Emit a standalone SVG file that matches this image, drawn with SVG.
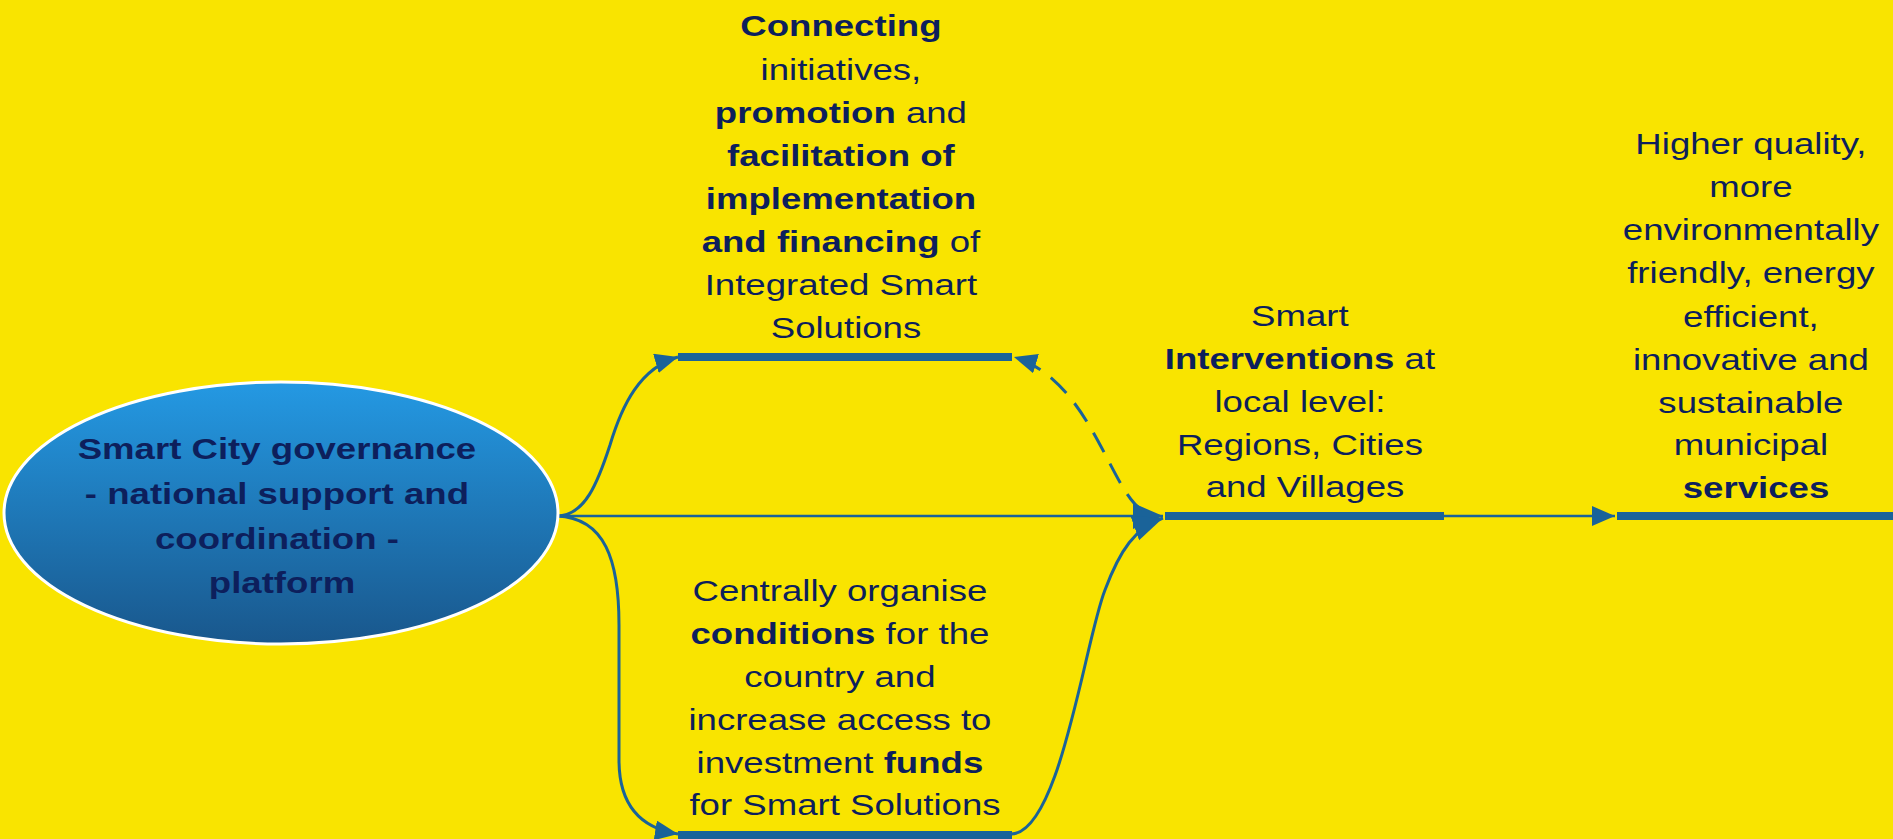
<svg xmlns="http://www.w3.org/2000/svg" width="1893" height="839" viewBox="0 0 1893 839">
<style>
  text { font-family: "Liberation Sans", Arial, sans-serif; font-size: 30px; fill: #0D1F5C; text-anchor: middle; }
  .b { font-weight: bold; }
  .conn { fill: none; stroke: #1A6399; stroke-width: 3; }
  .thin { fill: none; stroke: #1A6399; stroke-width: 2.5; }
  .dash { fill: none; stroke: #1A6399; stroke-width: 3; stroke-dasharray: 22 13; }
  .bar { stroke: #1A6399; stroke-width: 8; }
</style>
<defs>
  <linearGradient id="ellGrad" x1="0" y1="0" x2="0" y2="1">
    <stop offset="0" stop-color="#2499E3"/>
    <stop offset="1" stop-color="#19578C"/>
  </linearGradient>
  <marker id="arr" markerUnits="userSpaceOnUse" markerWidth="26" markerHeight="22" refX="23" refY="10" orient="auto">
    <path d="M0,0 L23,10 L0,20 z" fill="#1A6399"/>
  </marker>
  <marker id="arrBig" markerUnits="userSpaceOnUse" markerWidth="32" markerHeight="30" refX="30" refY="13" orient="auto">
    <path d="M0,0 L30,13 L0,26 z" fill="#1A6399"/>
  </marker>
</defs>
<rect x="0" y="0" width="1893" height="839" fill="#F9E400"/>

<g id="connectors">
  <path class="conn" d="M557,516 C585,516 598,482 610,445 C622,405 640,368 678,357" marker-end="url(#arr)"/>
  <path class="thin" d="M557,516 L1163,516" marker-end="url(#arrBig)"/>
  <path class="conn" d="M557,516 C605,518 619,560 619,625 L619,760 C619,805 640,828 678,834" marker-end="url(#arr)"/>
  <path class="conn" d="M1011,834 C1060,834 1085,640 1105,590 C1120,550 1135,528 1163,518" marker-end="url(#arrBig)"/>
  <path class="dash" d="M1142,510 C1110,490 1090,380 1014,357" marker-end="url(#arr)"/>
  <path class="thin" d="M1444,516 L1615,516" marker-end="url(#arr)"/>
</g>

<g id="platform">
  <ellipse cx="281" cy="513" rx="277" ry="131" fill="url(#ellGrad)" stroke="#FFFFFF" stroke-width="3"/>
  <text class="b" transform="translate(282,0) scale(1.22,1)">
    <tspan x="0" y="459">Smart City governance</tspan>
    <tspan x="0" y="504">- national support and</tspan>
    <tspan x="0" y="549">coordination -</tspan>
    <tspan x="0" y="593">platform</tspan>
  </text>
</g>

<g id="connecting">
  <text transform="translate(846,0) scale(1.22,1)">
    <tspan x="0" y="36" class="b">Connecting</tspan>
    <tspan x="0" y="80">initiatives,</tspan>
    <tspan x="0" y="123"><tspan class="b">promotion</tspan> and</tspan>
    <tspan x="0" y="166" class="b">facilitation of</tspan>
    <tspan x="0" y="209" class="b">implementation</tspan>
    <tspan x="0" y="252"><tspan class="b">and financing</tspan> of</tspan>
    <tspan x="0" y="295">Integrated Smart</tspan>
    <tspan x="0" y="338">Solutions</tspan>
  </text>
  <line class="bar" x1="678" y1="357" x2="1012" y2="357"/>
</g>

<g id="centrally">
  <text transform="translate(845,0) scale(1.22,1)">
    <tspan x="0" y="601">Centrally organise</tspan>
    <tspan x="0" y="644"><tspan class="b">conditions</tspan> for the</tspan>
    <tspan x="0" y="687">country and</tspan>
    <tspan x="0" y="730">increase access to</tspan>
    <tspan x="0" y="773">investment <tspan class="b">funds</tspan></tspan>
    <tspan x="0" y="815">for Smart Solutions</tspan>
  </text>
  <line class="bar" x1="678" y1="835" x2="1012" y2="835"/>
</g>

<g id="interventions">
  <text transform="translate(1305,0) scale(1.22,1)">
    <tspan x="0" y="326">Smart</tspan>
    <tspan x="0" y="369"><tspan class="b">Interventions</tspan> at</tspan>
    <tspan x="0" y="412">local level:</tspan>
    <tspan x="0" y="455">Regions, Cities</tspan>
    <tspan x="0" y="497">and Villages</tspan>
  </text>
  <line class="bar" x1="1165" y1="516" x2="1444" y2="516"/>
</g>

<g id="services">
  <text transform="translate(1756,0) scale(1.22,1)">
    <tspan x="0" y="154">Higher quality,</tspan>
    <tspan x="0" y="197">more</tspan>
    <tspan x="0" y="240">environmentally</tspan>
    <tspan x="0" y="283">friendly, energy</tspan>
    <tspan x="0" y="327">efficient,</tspan>
    <tspan x="0" y="370">innovative and</tspan>
    <tspan x="0" y="413">sustainable</tspan>
    <tspan x="0" y="455">municipal</tspan>
    <tspan x="0" y="498" class="b">services</tspan>
  </text>
  <line class="bar" x1="1617" y1="516" x2="1893" y2="516"/>
</g>
</svg>
